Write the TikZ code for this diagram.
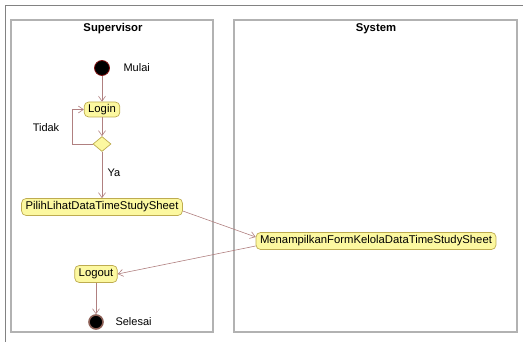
\documentclass[tikz,border=0pt]{standalone}
\usepackage{fontspec}
\setmainfont{Liberation Sans}
\usetikzlibrary{arrows.meta,shapes.geometric}
\definecolor{actfill}{RGB}{252,248,160}
\definecolor{actdraw}{RGB}{190,172,80}
\definecolor{flowcol}{RGB}{176,128,128}
\definecolor{lanecol}{RGB}{178,178,178}
\definecolor{framecol}{RGB}{130,130,130}
\definecolor{startring}{RGB}{130,20,20}
\definecolor{endring}{RGB}{140,95,85}
\tikzset{
  activity/.style={rectangle, rounded corners=4.5pt, fill=actfill, draw=actdraw, line width=0.7pt,
    inner xsep=4pt, inner ysep=0pt, minimum height=17pt, font=\fontsize{11.3}{13}\selectfont},
  decision/.style={diamond, fill=actfill, draw=actdraw, line width=0.7pt, inner sep=0pt,
    minimum width=18pt, minimum height=15pt},
  initial/.style={circle, fill=black, draw=startring, line width=0.8pt, inner sep=0pt, minimum size=15pt},
  final/.style={circle, fill=black, draw=endring, line width=1.6pt, inner sep=0pt, minimum size=14pt},
  flow/.style={draw=flowcol, line width=0.6pt, -{Straight Barb[length=5pt,width=7pt]}},
  lane/.style={draw=lanecol, line width=1.3pt},
  lanetitle/.style={font=\fontsize{11.3}{13}\selectfont\bfseries},
  note/.style={font=\fontsize{11}{13}\selectfont}
}
\begin{document}
\begin{tikzpicture}[x=1pt,y=-1pt]
  \useasboundingbox (0,0) rectangle (523,342);
  % outer frame
  \draw[framecol, line width=0.8pt] (5,342) -- (5,5) -- (523,5);
  % swimlanes
  \draw[lane] (11,20) rectangle (213,332);
  \draw[lane] (234,20) rectangle (517,332);
  \node[lanetitle] (tsup) at (113,29) {Supervisor};
  \node[lanetitle] (tsys) at (376,29) {System};

  % activity nodes
  \node[initial] (start) at (102,68) {};
  \node[note, anchor=west] (lmulai) at (120,68) {Mulai};
  \node[activity, minimum height=15pt] (login) at (102,109.5) {Login};
  \node[decision] (dec) at (102,144) {};
  \node[note] (ltidak) at (46,128) {Tidak};
  \node[note] (lya) at (114,173) {Ya};
  \node[activity] (pilih) at (102,207) {PilihLihatDataTimeStudySheet};
  \node[activity] (tampil) at (376,241) {MenampilkanFormKelolaDataTimeStudySheet};
  \node[activity] (logout) at (96,274) {Logout};
  \node[final] (stop) at (96,322) {};
  \node[note, anchor=west] (lselesai) at (112,322) {Selesai};

  % control flows
  \draw[flow] (start) -- (login);
  \draw[flow] (login) -- (dec);
  \draw[flow] (dec.west) -- ++(-20,0) |- (login.west);
  \draw[flow] (dec.south) -- (pilih.north);
  \draw[flow] ([yshift=-4pt]pilih.east) -- ([yshift=4pt]tampil.west);
  \draw[flow] ([yshift=-5pt]tampil.west) -- (logout.east);
  \draw[flow] (logout) -- (stop);
\end{tikzpicture}
\end{document}
